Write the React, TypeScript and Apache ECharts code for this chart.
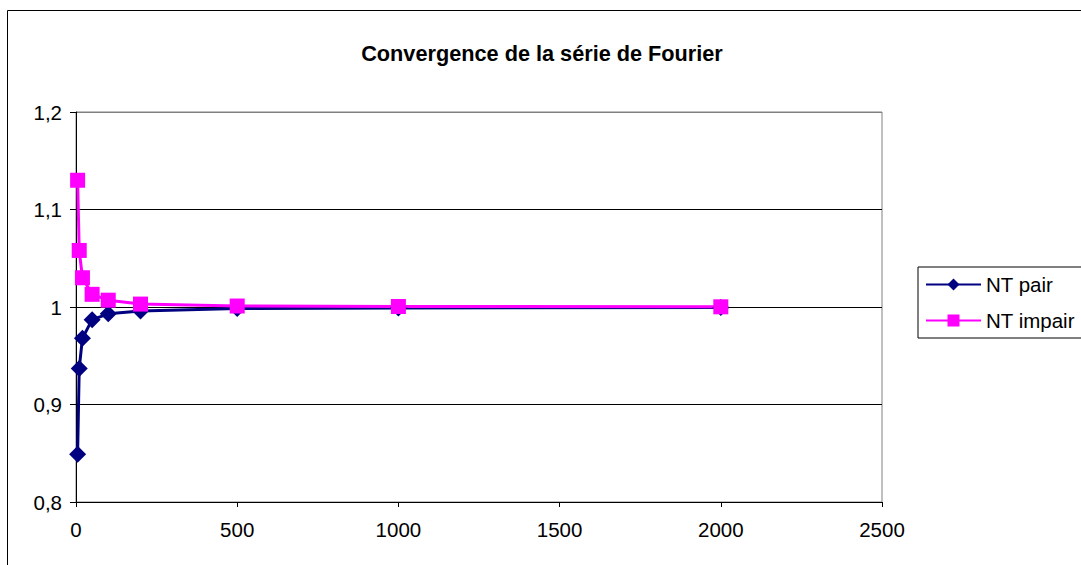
import React, { useEffect, useRef } from "react";
import * as echarts from "echarts";

const nValues = [5, 10, 20, 50, 100, 200, 500, 1000, 2000];
const ntPair = [0.849, 0.937, 0.968, 0.987, 0.993, 0.996, 0.9985, 0.999, 0.9995];
const ntImpair = [1.13, 1.058, 1.03, 1.013, 1.007, 1.003, 1.001, 1.0005, 1.0002];
const seriesNames = ["NT pair", "NT impair"];
const titleText = "Convergence de la série de Fourier";

const FONT = "'Liberation Sans', Arial, sans-serif";

export default function App() {
  const ref = useRef<HTMLDivElement>(null);
  useEffect(() => {
    if (!ref.current) return;
    const chart = echarts.init(ref.current, undefined, { renderer: "svg" });
    const pairData = nValues.map((x, i) => [x, ntPair[i]]);
    const impairData = nValues.map((x, i) => [x, ntImpair[i]]);
    chart.setOption({
      animation: false,
      backgroundColor: "#ffffff",
      textStyle: { fontFamily: FONT, color: "#000" },
      title: {
        text: titleText,
        left: 537,
        textAlign: "center",
        top: 37,
        textStyle: { fontFamily: FONT, fontSize: 21.7, fontWeight: "bold", color: "#000" },
      },
      graphic: [
        {
          type: "rect",
          shape: { x: 7.5, y: 10.5, width: 1200, height: 700 },
          style: { fill: "none", stroke: "#000", lineWidth: 1 },
          silent: true,
          z: -10,
        },
      ],
      legend: {
        orient: "vertical",
        left: 918,
        top: 267,
        width: 162,
        padding: [7, 10, 7, 7],
        itemGap: 15,
        itemWidth: 55,
        itemHeight: 15,
        borderColor: "#000",
        borderWidth: 1,
        textStyle: { fontFamily: FONT, fontSize: 20.5, color: "#000" },
        data: seriesNames,
      },
      grid: {
        left: 76,
        top: 112,
        width: 806,
        height: 390,
        show: true,
        borderColor: "#808080",
        borderWidth: 1,
        backgroundColor: "transparent",
      },
      xAxis: {
        type: "value",
        min: 0,
        max: 2500,
        interval: 500,
        axisLine: { show: true, lineStyle: { color: "#000", width: 1 } },
        axisTick: { show: true, inside: false, length: 5, lineStyle: { color: "#000" } },
        axisLabel: {
          fontFamily: FONT,
          fontSize: 20.5,
          color: "#000",
          margin: 17,
          formatter: (v: number) => String(v),
        },
        splitLine: { show: false },
      },
      yAxis: {
        type: "value",
        min: 0.8,
        max: 1.2,
        interval: 0.1,
        axisLine: { show: true, lineStyle: { color: "#000", width: 1 } },
        axisTick: { show: true, inside: false, length: 6, lineStyle: { color: "#000" } },
        axisLabel: {
          fontFamily: FONT,
          fontSize: 20.5,
          color: "#000",
          margin: 14,
          formatter: (v: number) => String(Math.round(v * 10) / 10).replace(".", ","),
        },
        splitLine: {
          show: true,
          lineStyle: { color: ["#000", "#000", "#000", "#000", "#808080"], width: 1 },
        },
      },
      series: [
        {
          name: seriesNames[0],
          type: "line",
          data: pairData,
          symbol: "diamond",
          symbolSize: 17,
          color: "#000080",
          lineStyle: { color: "#000080", width: 3 },
          itemStyle: { color: "#000080" },
        },
        {
          name: seriesNames[1],
          type: "line",
          data: impairData,
          symbol: "rect",
          symbolSize: 15,
          color: "#FF00FF",
          lineStyle: { color: "#FF00FF", width: 3 },
          itemStyle: { color: "#FF00FF" },
        },
      ],
    });
    return () => chart.dispose();
  }, []);
  return (
    <div
      ref={ref}
      style={{ position: "fixed", left: 0, top: 0, width: 1081, height: 565, background: "#fff" }}
    />
  );
}
